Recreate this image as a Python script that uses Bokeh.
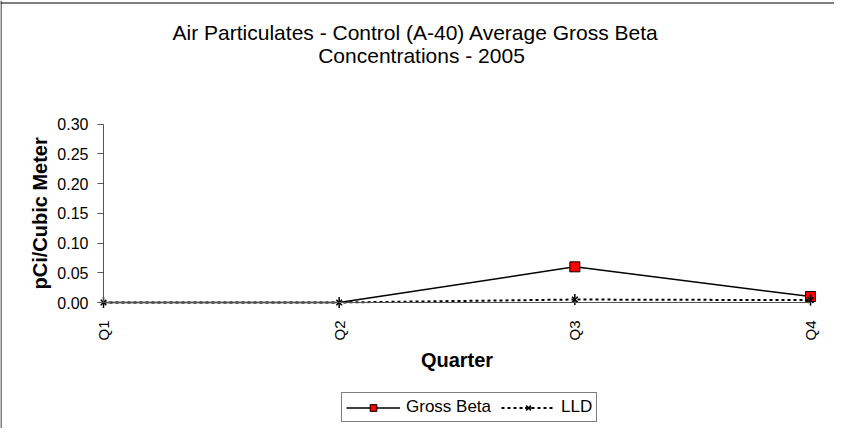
import math
from bokeh.plotting import figure
from bokeh.models import (Range1d, FixedTicker, Legend, LegendItem, Label, Span,
                          ColumnDataSource, NumeralTickFormatter)
from bokeh.embed import file_html
from bokeh.resources import INLINE

quarters = ["Q1", "Q2", "Q3", "Q4"]
gross_beta = [0.0, 0.0, 0.060, 0.010]
lld = [0.0, 0.0, 0.005, 0.004]
y_ticks = [0.0, 0.05, 0.10, 0.15, 0.20, 0.25, 0.30]
y_max = 0.30
title_lines = ["Air Particulates - Control (A-40)    Average Gross Beta",
               "Concentrations - 2005"]
x_title = "Quarter"
y_title = "pCi/Cubic Meter"

xs = list(range(len(quarters)))
gb_marks = [v if v > 0 else float("nan") for v in gross_beta]
src = ColumnDataSource(dict(x=xs, gb=gross_beta, gbm=gb_marks, lld=lld))

FONT = "Liberation Sans"
W, H = 834, 428
# pixel geometry of the plotting area inside the canvas (x right, y down)
AX_L, AX_R, AX_B, AX_T = 103.0, 810.0, 302.0, 123.7
ppx = (AX_R - AX_L) / (len(quarters) - 1)
ppy = (AX_B - AX_T) / y_max
x_range = Range1d(-AX_L / ppx, (len(quarters) - 1) + (W - AX_R) / ppx)
y_range = Range1d(-(H - AX_B) / ppy, y_max + AX_T / ppy)

p = figure(width=W, height=H, output_backend="svg", toolbar_location=None,
           x_range=x_range, y_range=y_range,
           min_border_left=0, min_border_right=0,
           min_border_top=0, min_border_bottom=0)
p.title.visible = False
p.outline_line_color = None
p.grid.visible = False

# x axis, crossing at y = 0
xa = p.xaxis[0]
xa.fixed_location = 0
xa.bounds = (0, len(quarters) - 1)
xa.ticker = FixedTicker(ticks=xs)
xa.major_label_overrides = {i: q for i, q in enumerate(quarters)}
xa.major_label_orientation = math.pi / 2
xa.major_tick_out = 0
xa.major_tick_in = 0
xa.minor_tick_line_color = None
xa.axis_line_color = "#555555"
xa.major_label_standoff = 18
xa.major_label_text_font = FONT
xa.major_label_text_font_size = "15px"
xa.major_label_text_color = "black"

# y axis, crossing at x = 0
ya = p.yaxis[0]
ya.fixed_location = 0
ya.bounds = (0, y_max)
ya.ticker = FixedTicker(ticks=y_ticks)
ya.formatter = NumeralTickFormatter(format="0.00")
ya.major_tick_out = 6
ya.major_tick_in = 0
ya.minor_tick_line_color = None
ya.axis_line_color = "#555555"
ya.major_tick_line_color = "#555555"
ya.major_label_standoff = 9
ya.major_label_text_font = FONT
ya.major_label_text_font_size = "16px"
ya.major_label_text_color = "black"

# series
r1 = p.line("x", "gb", source=src, line_color="black", line_width=1.5)
r2 = p.scatter("x", "gbm", source=src, marker="square", size=10,
               fill_color="#ff0000", line_color="black", line_width=1)
r3 = p.line("x", "lld", source=src, line_color="black", line_width=2,
            line_dash="3 3")
r4 = p.scatter("x", "lld", source=src, marker="x", size=8,
               line_color="black", line_width=1.5)
r5 = p.scatter("x", "lld", source=src, marker="dash", size=11, angle=math.pi / 2,
               line_color="black", line_width=1.5)

# texts (screen units, measured from the bottom-left of the canvas)
def add_text(t, x, y, size, bold=False, angle=0.0):
    p.add_layout(Label(x=x, y=y, x_units="screen", y_units="screen", text=t,
                       angle=angle, text_align="center", text_baseline="middle",
                       text_font=FONT, text_font_size=size,
                       text_font_style="bold" if bold else "normal",
                       text_color="black"))

add_text(title_lines[0], 424, H - 32, "21px")
add_text(title_lines[1], 421, H - 55, "21px")
add_text(x_title, (AX_L + AX_R) / 2, H - 359, "20px", bold=True)
add_text(y_title, 39.5, H - (AX_B + AX_T) / 2, "20px", bold=True, angle=math.pi / 2)

# outer chart border (left and top edges; right/bottom lie outside the window)
p.add_layout(Span(location=x_range.start + 0.5 / ppx, dimension="height",
                  line_color="black", line_width=1))
p.add_layout(Span(location=y_range.end - 2.5 / ppy, dimension="width",
                  line_color="black", line_width=1))

legend = Legend(items=[LegendItem(label="Gross Beta", renderers=[r1, r2]),
                       LegendItem(label="LLD", renderers=[r3, r4, r5])],
                orientation="horizontal", location=(341, H - 422))
legend.border_line_color = "black"
legend.border_line_width = 1
legend.label_text_font = FONT
legend.label_text_font_size = "17px"
legend.label_text_color = "black"
legend.glyph_width = 54
legend.glyph_height = 17
legend.label_height = 17
legend.label_standoff = 6
legend.spacing = 10
legend.padding = 4
legend.margin = 0
p.add_layout(legend, "center")

open("out.html", "w").write(file_html(p, INLINE))
